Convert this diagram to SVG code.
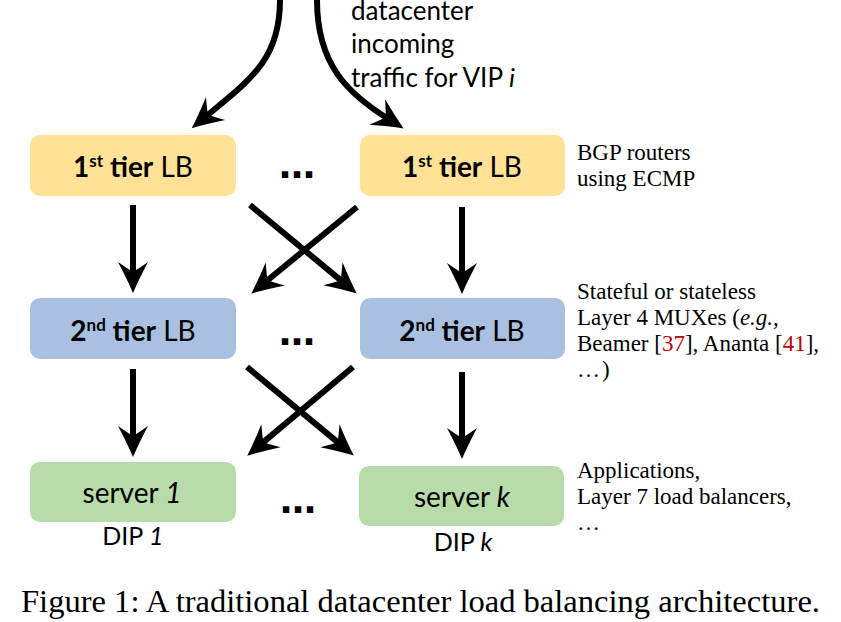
<svg xmlns="http://www.w3.org/2000/svg" width="841" height="622" viewBox="0 0 841 622">
<style>
.box1{fill:#FFE296}
.box2{fill:#A9C0E0}
.box3{fill:#B8DBAA}
.lbl{font-family:Lato,"Open Sans",sans-serif;font-size:28px;fill:#000;text-anchor:middle}
.b{font-weight:bold}
.sup{font-size:17px;font-weight:bold}
.srv{font-family:Lato,"Open Sans",sans-serif;font-size:28px;fill:#000;text-anchor:middle}
.dip{font-family:Lato,"Open Sans",sans-serif;font-size:25px;fill:#000;text-anchor:middle}
.top{font-family:Lato,"Open Sans",sans-serif;font-size:26px;fill:#000}
.note{font-family:"Liberation Serif",serif;font-size:23px;fill:#000}
.red{fill:#C00000}
.cap{font-family:"Liberation Serif",serif;font-size:32px;fill:#000}
.dots{font-family:"DejaVu Sans",sans-serif;font-size:36px;font-weight:bold;fill:#000;text-anchor:middle}
.arr{fill:none;stroke:#000;stroke-width:6;marker-end:url(#ah)}
</style>
<defs>
<marker id="ah" markerUnits="userSpaceOnUse" markerWidth="40" markerHeight="40" refX="0" refY="0" orient="auto" overflow="visible" viewBox="-20 -20 40 40">
<path d="M16,0 Q2,-6 -15,-15 Q-8,-5 -5,0 Q-8,5 -15,15 Q2,6 16,0 Z" fill="#000"/>
</marker>
</defs>

<g id="connectors">
<path class="arr" d="M280,0 C280,60 250,80 204,118"/>
<path class="arr" d="M317,0 C317,65 348,94 390,120"/>
<path class="arr" d="M133,205 L133,277"/>
<path class="arr" d="M462,207 L462,278"/>
<path class="arr" d="M250,205 L344.5,283.4"/>
<path class="arr" d="M357,207 L263.6,283.5"/>
<path class="arr" d="M133,369 L133,441"/>
<path class="arr" d="M462,372 L462,443"/>
<path class="arr" d="M247,367 L341.5,445.4"/>
<path class="arr" d="M353,367 L259.5,445.4"/>
</g>

<g id="incoming-label">
<text class="top" x="351" y="20">datacenter</text>
<text class="top" x="351" y="53">incoming</text>
<text class="top" x="351" y="87">traffic for VIP <tspan font-style="italic">i</tspan></text>
</g>

<g id="tier1-left">
<rect class="box1" x="30" y="135" width="206" height="61" rx="10"/>
<text class="lbl" x="133" y="177"><tspan class="b">1</tspan><tspan class="sup" dy="-10">st</tspan><tspan class="b" dy="10"> tier</tspan> LB</text>
</g>
<g id="tier1-dots"><text class="dots" x="297" y="178">…</text></g>
<g id="tier1-right">
<rect class="box1" x="360" y="135" width="205" height="61" rx="10"/>
<text class="lbl" x="462" y="177"><tspan class="b">1</tspan><tspan class="sup" dy="-10">st</tspan><tspan class="b" dy="10"> tier</tspan> LB</text>
</g>

<g id="tier2-left">
<rect class="box2" x="30" y="298" width="206" height="61" rx="10"/>
<text class="lbl" x="133" y="341"><tspan class="b">2</tspan><tspan class="sup" dy="-10">nd</tspan><tspan class="b" dy="10"> tier</tspan> LB</text>
</g>
<g id="tier2-dots"><text class="dots" x="297" y="345">…</text></g>
<g id="tier2-right">
<rect class="box2" x="360" y="298" width="205" height="61" rx="10"/>
<text class="lbl" x="462" y="341"><tspan class="b">2</tspan><tspan class="sup" dy="-10">nd</tspan><tspan class="b" dy="10"> tier</tspan> LB</text>
</g>

<g id="server-1">
<rect class="box3" x="30" y="462" width="206" height="60" rx="10"/>
<text class="srv" x="132" y="503">server <tspan font-style="italic">1</tspan></text>
<text class="dip" x="133" y="545">DIP <tspan font-style="italic">1</tspan></text>
</g>
<g id="server-dots"><text class="dots" x="298" y="513">…</text></g>
<g id="server-k">
<rect class="box3" x="359" y="466" width="205" height="60" rx="10"/>
<text class="srv" x="462" y="507">server <tspan font-style="italic">k</tspan></text>
<text class="dip" x="463" y="551">DIP <tspan font-style="italic">k</tspan></text>
</g>

<g id="notes">
<text class="note" x="577" y="160">BGP routers</text>
<text class="note" x="577" y="186">using ECMP</text>
<text class="note" x="577" y="299">Stateful or stateless</text>
<text class="note" x="577" y="325">Layer 4 MUXes (<tspan font-style="italic">e.g.</tspan>,</text>
<text class="note" x="577" y="351">Beamer [<tspan class="red">37</tspan>], Ananta [<tspan class="red">41</tspan>],</text>
<text class="note" x="577" y="377" letter-spacing="2">…)</text>
<text class="note" x="577" y="478">Applications,</text>
<text class="note" x="577" y="504">Layer 7 load balancers,</text>
<text class="note" x="577" y="530" letter-spacing="2">…</text>
</g>

<g id="caption">
<text class="cap" x="21" y="612" textLength="799" lengthAdjust="spacingAndGlyphs">Figure 1: A traditional datacenter load balancing architecture.</text>
</g>
</svg>
